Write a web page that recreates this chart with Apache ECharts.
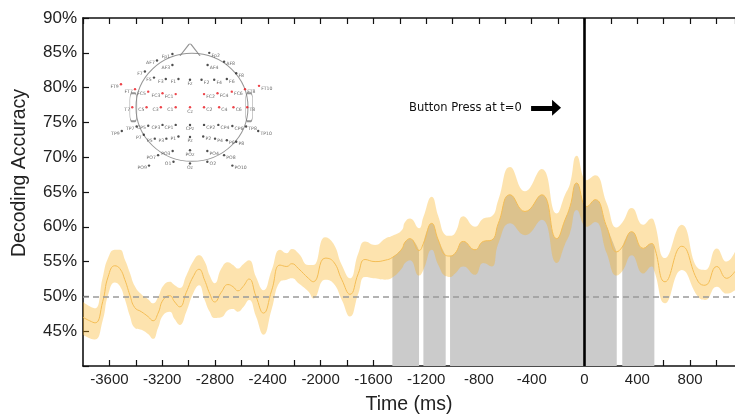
<!DOCTYPE html>
<html><head><meta charset="utf-8">
<script src="https://cdn.jsdelivr.net/npm/echarts@6/dist/echarts.min.js"></script>
<style>html,body{margin:0;padding:0;background:#fff}#c{width:735px;height:417px}</style>
</head><body><div id="c"></div>
<script>
// ---- data ----
const timeMs = [-3800,-3750,-3708,-3650,-3610,-3559,-3521,-3483,-3445,-3408,-3358,-3307,-3269,-3231,-3193,-3143,-3105,-3067,-3017,-2966,-2921,-2878,-2840,-2802,-2752,-2702,-2664,-2626,-2588,-2542,-2489,-2433,-2370,-2307,-2256,-2218,-2168,-2092,-2055,-1966,-1903,-1839,-1777,-1714,-1663,-1587,-1511,-1456,-1385,-1360,-1322,-1254,-1221,-1158,-1108,-1052,-1019,-981,-918,-830,-767,-703,-653,-564,-451,-324,-211,-148,-110,-59,17,80,168,244,286,358,445,509,529,610,736,862,913,1002,1077,1140];
const meanAcc = [47.0,46.5,46.2,49.3,52.8,54.4,54.0,52.4,50.2,48.4,47.8,47.1,46.5,47.6,49.5,50.1,49.2,48.5,50.6,52.8,53.9,52.3,50.4,49.2,50.6,51.7,51.4,50.8,51.4,52.5,50.0,47.6,50.9,54.5,54.3,54.7,54.0,52.6,52.1,55.5,55.0,52.4,50.3,53.3,55.3,55.0,55.2,55.6,56.8,57.8,58.3,56.6,57.6,60.5,58.1,55.9,55.8,56.2,57.9,56.7,57.9,58.1,60.5,64.6,62.2,64.6,58.3,61.0,62.9,66.3,62.9,63.9,60.0,56.4,57.1,59.3,56.9,57.6,57.1,52.1,57.2,52.1,51.6,54.3,52.6,53.6];
const lowerCI = [44.5,44.0,43.8,46.6,50.2,52.0,51.5,49.6,47.2,45.5,45.2,44.6,43.9,45.5,47.3,47.8,46.7,45.9,47.8,50.4,51.6,49.5,47.8,46.9,47.0,48.0,48.2,47.8,48.4,49.5,47.1,44.5,48.2,52.1,52.4,52.6,51.9,50.7,49.7,52.4,51.9,49.5,47.1,50.4,52.8,52.6,52.4,52.7,54.0,54.8,55.2,53.0,53.8,56.7,54.5,52.9,52.8,53.3,54.3,53.1,54.8,54.3,57.6,60.5,58.8,61.0,54.8,57.5,59.1,62.4,60.0,60.7,56.2,53.0,53.6,55.9,53.3,54.3,53.6,49.0,53.8,49.9,49.5,51.4,50.4,50.9];
const upperCI = [49.2,48.6,48.3,52.8,55.5,56.7,56.7,55.3,53.4,51.5,50.3,49.6,49.0,49.9,51.5,52.1,51.6,51.2,53.0,55.0,55.9,55.0,53.0,51.9,54.0,54.9,54.5,54.0,54.6,55.2,52.8,50.9,53.8,56.7,56.2,56.8,56.2,54.5,54.5,58.5,57.6,54.5,52.6,56.2,57.9,57.4,58.3,58.7,59.5,60.7,61.2,59.8,61.4,64.3,61.5,58.8,58.7,59.1,61.5,60.0,61.2,61.5,63.9,68.6,65.1,68.3,61.9,64.6,66.2,70.2,66.7,67.4,63.4,59.9,60.6,62.7,60.3,61.2,60.7,55.5,60.3,54.0,53.8,56.9,55.0,56.4];
const sigIntervals = [[-1456,-1254],[-1221,-1052],[-1019,244],[286,529]];
const xTickLabels = [-3600,-3200,-2800,-2400,-2000,-1600,-1200,-800,-400,0,400,800];
const yTickLabels = [45,50,55,60,65,70,75,80,85,90];
const chanceLevel = 50;
const buttonTime = 0;
const annotationText = 'Button Press at t=0';

// electrode map (head units, Cz at origin)
const chanNames = ['Fp1','Fp2','AF7','AF3','AF4','AF8','F7','F5','F3','F1','Fz','F2','F4','F6','F8','FT9','FT7','FC5','FC3','FC1','FC2','FC4','FC6','FT8','FT10','T7','C5','C3','C1','Cz','C2','C4','C6','T8','TP9','TP7','CP5','CP3','CP1','CPz','CP2','CP4','CP6','TP8','TP10','P7','P5','P3','P1','Pz','P2','P4','P6','P8','PO7','PO3','POz','PO4','PO8','PO9','O1','Oz','O2','PO10'];
const chanX = [-0.32,0.35,-0.6,-0.32,0.32,0.62,-0.82,-0.655,-0.44,-0.21,0,0.21,0.44,0.67,0.84,-1.255,-1.0,-0.76,-0.5,-0.26,0.255,0.5,0.76,1.0,1.255,-1.05,-0.79,-0.53,-0.26,0,0.255,0.53,0.79,1.04,-1.24,-0.97,-0.76,-0.5,-0.26,0,0.255,0.515,0.77,1.02,1.24,-0.84,-0.64,-0.43,-0.21,0,0.24,0.455,0.67,0.84,-0.58,-0.315,0,0.315,0.62,-0.745,-0.3,0,0.315,0.77];
const chanY = [0.97,0.99,0.85,0.77,0.77,0.83,0.65,0.54,0.515,0.515,0.5,0.5,0.5,0.515,0.62,0.42,0.33,0.285,0.255,0.24,0.24,0.255,0.285,0.33,0.39,0,0,0,0,0,0,0,0,0,-0.43,-0.35,-0.335,-0.32,-0.32,-0.32,-0.32,-0.32,-0.34,-0.35,-0.43,-0.5,-0.57,-0.57,-0.53,-0.54,-0.53,-0.57,-0.6,-0.625,-0.87,-0.795,-0.78,-0.795,-0.87,-1.06,-0.99,-1.02,-0.99,-1.06];
const chanSig = [0,0,0,0,0,0,0,0,0,0,0,0,0,0,0,1,1,1,1,1,1,1,1,1,1,1,1,1,1,1,1,1,1,1,0,0,0,0,0,0,0,0,0,0,0,0,0,0,0,0,0,0,0,0,0,0,0,0,0,0,0,0,0,0];

// ---- build ----
const chart = echarts.init(document.getElementById('c'), null, {renderer:'canvas'});
const FONT = '"Liberation Sans", Arial, sans-serif';
const meanPts = timeMs.map((t,i)=>[t, meanAcc[i]]);
// band series: columns are [value, time] so that stacking applies to the value column
const lowPts = timeMs.map((t,i)=>[lowerCI[i], t]);
const widthPts = timeMs.map((t,i)=>[+(upperCI[i]-lowerCI[i]).toFixed(2), t]);
const SM = 0.5;

const graySeries = sigIntervals.map(([a,b]) => ({
  type:'line', xAxisIndex:0, yAxisIndex:0, z:1,
  data: meanPts.filter(p => p[0] >= a && p[0] <= b),
  smooth: SM, symbol:'none', silent:true,
  lineStyle:{width:0}, areaStyle:{color:'#cbcbcb', opacity:1, origin:'start'}
}));

const chanData = chanNames.map((n,i)=>{
  const x = chanX[i];
  const pos = Math.abs(x) < 0.05 ? 'bottom' : (x < 0 ? 'left' : 'right');
  return {
    name:n, value:[x, chanY[i]],
    itemStyle:{color: chanSig[i] ? '#e8141b' : '#222'},
    label:{show:true, position:pos, distance: pos==='bottom'?0.5:1, offset: pos==='bottom'?[0,0]:[0,2.5]}
  };
});

const option = {
  animation:false,
  grid:[
    {left:83, top:18, right:0, bottom:51, containLabel:false, outerBoundsMode:'none'},
    {left:102, top:35.8, width:176, height:143, containLabel:false, outerBoundsMode:'none'}
  ],
  xAxis:[
    {type:'value', gridIndex:0, min:-3800, max:1140, interval:200, position:'bottom',
     axisLine:{show:true, onZero:false, lineStyle:{color:'#111', width:1.6}},
     axisTick:{show:true, inside:true, length:6, lineStyle:{color:'#111', width:1.2}},
     axisLabel:{show:true, margin:6, fontSize:15, color:'#222', fontFamily:FONT, showMaxLabel:false, showMinLabel:false,
       formatter:v => xTickLabels.includes(v) ? String(v) : ''},
     splitLine:{show:false},
     name:'Time (ms)', nameLocation:'middle', nameGap:29,
     nameTextStyle:{fontSize:19.5, color:'#222', fontFamily:FONT}},
    {type:'value', gridIndex:0, min:-3800, max:1140, interval:200, position:'top',
     axisLine:{show:true, onZero:false, lineStyle:{color:'#111', width:1.6}},
     axisTick:{show:true, inside:true, length:6, lineStyle:{color:'#111', width:1.2}},
     axisLabel:{show:false}, splitLine:{show:false}},
    {type:'value', gridIndex:1, min:-1.6, max:1.6, show:false}
  ],
  yAxis:[
    {type:'value', gridIndex:0, min:40, max:90, interval:5,
     axisLine:{show:true, onZero:false, lineStyle:{color:'#111', width:1.6}},
     axisTick:{show:true, inside:true, length:6, lineStyle:{color:'#111', width:1.2}},
     axisLabel:{show:true, margin:6, fontSize:17, color:'#222', fontFamily:FONT,
       formatter:v => yTickLabels.includes(v) ? v + '%' : ''},
     splitLine:{show:false}},
    {type:'value', gridIndex:1, min:-1.3, max:1.3, show:false}
  ],
  graphic:[
    {type:'text', x:20, y:173, rotation:Math.PI/2, z:10,
     style:{text:'Decoding Accuracy', x:0, y:0, align:'center', verticalAlign:'middle',
       fontSize:19.5, fontFamily:FONT, fill:'#222'}},
    {type:'text', x:409, y:108, z:10,
     style:{text:annotationText, x:0, y:0, align:'left', verticalAlign:'middle',
       fontSize:11.5, fontFamily:'"DejaVu Sans", sans-serif', fill:'#111'}}
  ],
  series:[
    ...graySeries,
    {type:'line', name:'ciLow', xAxisIndex:0, yAxisIndex:0, z:2, stack:'ci', data:lowPts,
     encode:{x:1, y:0},
     smooth:SM, symbol:'none', silent:true, lineStyle:{width:0, opacity:0}},
    {type:'line', name:'ciBand', xAxisIndex:0, yAxisIndex:0, z:2, stack:'ci', data:widthPts,
     encode:{x:1, y:0},
     smooth:SM, symbol:'none', silent:true, lineStyle:{width:0, opacity:0},
     areaStyle:{color:'rgba(250,178,30,0.36)', opacity:1}},
    {type:'line', name:'mean', xAxisIndex:0, yAxisIndex:0, z:3, data:meanPts,
     smooth:SM, symbol:'none', silent:true, lineStyle:{color:'#f4bd55', width:1},
     markLine:{silent:true, symbol:'none', label:{show:false}, animation:false,
       data:[
         {yAxis:chanceLevel, lineStyle:{color:'#9a9a9a', width:1.6, type:[6,4]}},
         {xAxis:buttonTime, lineStyle:{color:'#000', width:2.6, type:'solid'}}
       ]}},
    {type:'line', name:'arrow', xAxisIndex:0, yAxisIndex:0, z:5, data:[],
     markLine:{silent:true, label:{show:false}, animation:false,
       symbol:['none','path://M5,0 L10,10 L0,10 Z'], symbolSize:[16,9],
       lineStyle:{color:'#000', width:5, type:'solid'},
       data:[[{coord:[-405, 77.1]}, {coord:[-212, 77.1]}]]}},
    // electrode map
    {type:'scatter', xAxisIndex:2, yAxisIndex:1, z:4, silent:true,
     data:[[0.036, 0]], symbol:'circle', symbolSize:[112,108],
     itemStyle:{color:'rgba(0,0,0,0)', borderColor:'#7a7a7a', borderWidth:1}},
    {type:'scatter', xAxisIndex:2, yAxisIndex:1, z:4, silent:true,
     data:[[0.0, 1.045]], symbol:'path://M0,12 L9,0.8 Q10,0 11,0.8 L20,12', symbolSize:[20,12],
     itemStyle:{color:'rgba(0,0,0,0)', borderColor:'#7a7a7a', borderWidth:1}},
    {type:'scatter', xAxisIndex:2, yAxisIndex:1, z:4, silent:true,
     data:[[-1.03, 0.0],[1.075, 0.0]], symbol:'roundRect', symbolSize:[7,28],
     itemStyle:{color:'rgba(0,0,0,0)', borderColor:'#7a7a7a', borderWidth:1}},
    {type:'scatter', xAxisIndex:2, yAxisIndex:1, z:5, silent:true,
     data:chanData, symbol:'circle', symbolSize:2.4,
     label:{show:true, formatter:p=>p.name, fontSize:4.6, color:'#444', fontFamily:'"DejaVu Sans", sans-serif'}}
  ]
};
chart.setOption(option);
</script>
</body></html>
